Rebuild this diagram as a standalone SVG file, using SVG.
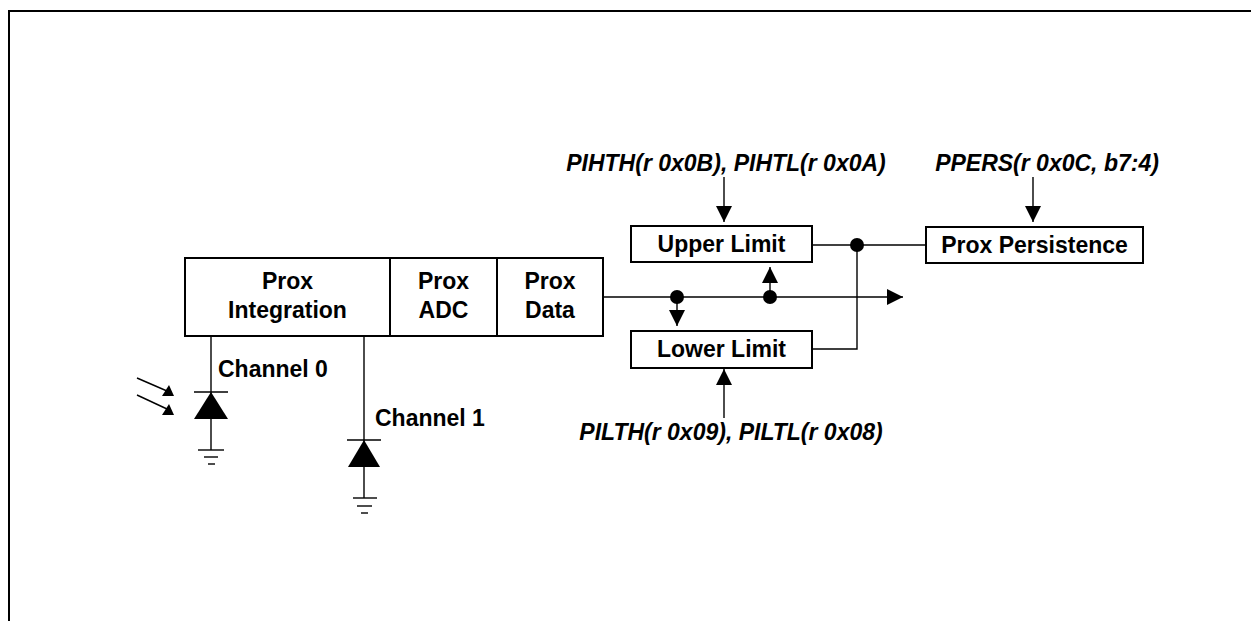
<svg xmlns="http://www.w3.org/2000/svg" width="1251" height="621" viewBox="0 0 1251 621">
<style>
.box{fill:#fff;stroke:#000;stroke-width:2}
.ln{fill:none;stroke:#000;stroke-width:1.4}
.t{font-family:"Liberation Sans",Arial,sans-serif;font-weight:bold;font-size:23px;fill:#000}
.c{text-anchor:middle}
.i{font-style:italic}
.fill{fill:#000;stroke:none}
</style>
<defs>
<marker id="ah" viewBox="0 0 16 16" refX="16" refY="8" markerWidth="16" markerHeight="16" markerUnits="userSpaceOnUse" orient="auto">
<path d="M0,0 L16,8 L0,16 Z" fill="#000"/>
</marker>
</defs>
<rect width="1251" height="621" fill="#fff"/>
<path d="M9,621 V11 H1251" fill="none" stroke="#000" stroke-width="2"/>

<g id="connectors">
<line class="ln" x1="724" y1="177" x2="724" y2="222" marker-end="url(#ah)"/>
<line class="ln" x1="724" y1="418" x2="724" y2="369" marker-end="url(#ah)"/>
<line class="ln" x1="1033" y1="177" x2="1033" y2="222" marker-end="url(#ah)"/>
<line class="ln" x1="603" y1="297" x2="903" y2="297" marker-end="url(#ah)"/>
<line class="ln" x1="677" y1="297" x2="677" y2="326" marker-end="url(#ah)"/>
<line class="ln" x1="770" y1="297" x2="770" y2="267" marker-end="url(#ah)"/>
<line class="ln" x1="812" y1="245" x2="926" y2="245"/>
<path class="ln" d="M857,245 V349 H812"/>
<circle class="fill" cx="677" cy="297" r="7"/>
<circle class="fill" cx="770" cy="297" r="7"/>
<circle class="fill" cx="857" cy="245" r="7"/>
</g>

<g id="main-block">
<rect class="box" x="185" y="258" width="418" height="78"/>
<line class="box" x1="390" y1="258" x2="390" y2="336"/>
<line class="box" x1="497" y1="258" x2="497" y2="336"/>
<text class="t c" x="287.5" y="289">Prox</text>
<text class="t c" x="287.5" y="318">Integration</text>
<text class="t c" x="443.5" y="289">Prox</text>
<text class="t c" x="443.5" y="318">ADC</text>
<text class="t c" x="550" y="289">Prox</text>
<text class="t c" x="550" y="318">Data</text>
</g>

<g id="upper-limit">
<rect class="box" x="631" y="226" width="181" height="36"/>
<text class="t c" x="721.5" y="252">Upper Limit</text>
</g>
<g id="lower-limit">
<rect class="box" x="631" y="331" width="181" height="37"/>
<text class="t c" x="721.5" y="357">Lower Limit</text>
</g>
<g id="prox-persistence">
<rect class="box" x="926" y="227" width="217" height="36"/>
<text class="t c" x="1034.5" y="253">Prox Persistence</text>
</g>

<g id="labels">
<text class="t i c" x="726" y="171">PIHTH(r 0x0B), PIHTL(r 0x0A)</text>
<text class="t i c" x="731" y="440">PILTH(r 0x09), PILTL(r 0x08)</text>
<text class="t i c" x="1047" y="171">PPERS(r 0x0C, b7:4)</text>
</g>

<g id="channel0">
<line class="ln" x1="211" y1="336" x2="211" y2="450"/>
<line class="ln" x1="194" y1="392" x2="228" y2="392"/>
<polygon class="fill" points="211,392 194,419 228,419"/>
<line class="ln" x1="198" y1="450" x2="224" y2="450"/>
<line class="ln" x1="204" y1="457" x2="218" y2="457"/>
<line class="ln" x1="208" y1="464" x2="215" y2="464"/>
<text class="t" x="218" y="377">Channel 0</text>
<line class="ln" x1="137" y1="378" x2="167" y2="391"/>
<polygon class="fill" points="162,396 174,396 169,385"/>
<line class="ln" x1="137" y1="395" x2="167" y2="409"/>
<polygon class="fill" points="162,415 174,415 169,404"/>
</g>

<g id="channel1">
<line class="ln" x1="364" y1="336" x2="364" y2="498"/>
<line class="ln" x1="347" y1="440" x2="381" y2="440"/>
<polygon class="fill" points="364,440 348,467 380,467"/>
<line class="ln" x1="353" y1="498" x2="377" y2="498"/>
<line class="ln" x1="357" y1="506" x2="372" y2="506"/>
<line class="ln" x1="361" y1="513" x2="368" y2="513"/>
<text class="t" x="375" y="426">Channel 1</text>
</g>
</svg>
